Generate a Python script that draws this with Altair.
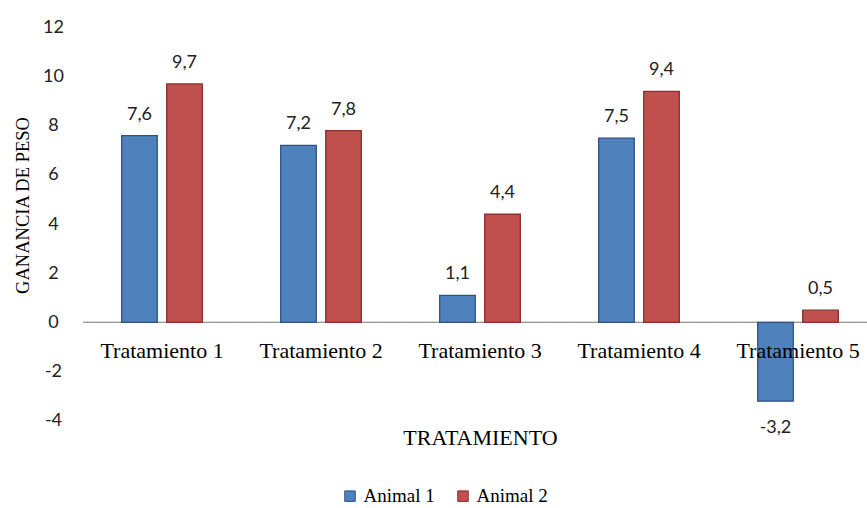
import altair as alt
import pandas as pd

# Weight gain per treatment for the two animals
categories = ["Tratamiento 1", "Tratamiento 2", "Tratamiento 3", "Tratamiento 4", "Tratamiento 5"]
series = ["Animal 1", "Animal 2"]
animal_1 = [7.6, 7.2, 1.1, 7.5, -3.2]
animal_2 = [9.7, 7.8, 4.4, 9.4, 0.5]
y_ticks = [-4, -2, 0, 2, 4, 6, 8, 10, 12]

fill_colors = ["#4F81BD", "#C0504D"]
edge_colors = ["#2F5283", "#8B2E2C"]

rows = []
for cat, a1, a2 in zip(categories, animal_1, animal_2):
    rows.append({"Tratamiento": cat, "Animal": series[0], "Ganancia": a1})
    rows.append({"Tratamiento": cat, "Animal": series[1], "Ganancia": a2})
df = pd.DataFrame(rows)
cat_df = pd.DataFrame({"Tratamiento": categories})

W, H = 795, 393.4

x_scale = alt.Scale(domain=categories, paddingInner=0, paddingOuter=0)
y_scale = alt.Scale(domain=[-4, 12], nice=False, zero=False)
off_scale = alt.Scale(domain=series, paddingInner=0.21, paddingOuter=0.87)

x_axis = alt.Axis(
    title="TRATAMIENTO", labels=False, ticks=False, domain=False, grid=False,
    titleFont="Liberation Serif", titleFontSize=22, titleFontWeight="normal",
    titleColor="#000000", titleX=W / 2, titleY=17, titleBaseline="middle",
    titleAlign="center",
)
y_axis = alt.Axis(
    title="GANANCIA DE PESO", values=y_ticks, ticks=False, domain=False, grid=False,
    labelExpr="replace(datum.label, '\u2212', '-')",
    labelFont="Lato", labelFontSize=18, labelColor="#222222", labelAlign="center",
    labelPadding=29.5, labelBaseline="middle",
    titleFont="Liberation Serif", titleFontSize=18.5, titleFontWeight="normal",
    titleColor="#000000", titleAngle=270, titleX=-60.5, titleY=177.6,
    titleAlign="center", titleBaseline="middle",
)

x_enc = alt.X("Tratamiento:N", scale=x_scale, sort=categories, axis=x_axis)
y_enc = alt.Y("Ganancia:Q", scale=y_scale, axis=y_axis)
off_enc = alt.XOffset("Animal:N", scale=off_scale, sort=series)

legend = alt.Legend(
    orient="none", legendX=258, legendY=459, direction="horizontal", title=None,
    symbolType="square", symbolSize=110, symbolStrokeWidth=1,
    labelFont="Liberation Serif", labelFontSize=19, labelColor="#000000",
    labelOffset=4, columnPadding=18, padding=0, labelLimit=200,
)

zero_line = alt.Chart(df).mark_rule(color="#9A9A9A", strokeWidth=1, strokeDash=[2, 1]).encode(
    y=alt.YDatum(0, scale=y_scale, axis=y_axis),
)

bars = alt.Chart(df).mark_bar(strokeWidth=1.3).encode(
    x=x_enc,
    xOffset=off_enc,
    y=y_enc,
    fill=alt.Fill("Animal:N", scale=alt.Scale(domain=series, range=fill_colors), legend=legend),
    stroke=alt.Stroke("Animal:N", scale=alt.Scale(domain=series, range=edge_colors), legend=legend),
)

# value labels with a decimal comma and a plain hyphen for negatives
label_base = alt.Chart(df).transform_calculate(
    etiqueta="replace(replace(format(datum.Ganancia, '.1f'), '.', ','), '\u2212', '-')"
).encode(x=x_enc, xOffset=off_enc, y=y_enc, text="etiqueta:N")

pos_labels = label_base.transform_filter("datum.Ganancia >= 0").mark_text(
    font="Lato", fontSize=18, color="#222222", baseline="alphabetic", dy=-16
)
neg_labels = label_base.transform_filter("datum.Ganancia < 0").mark_text(
    font="Lato", fontSize=18, color="#222222", baseline="alphabetic", dy=32
)

cat_labels = alt.Chart(cat_df).mark_text(
    font="Liberation Serif", fontSize=22, color="#000000", baseline="alphabetic", dy=35.8
).encode(
    x=x_enc,
    y=alt.YDatum(0, scale=y_scale, axis=y_axis),
    text="Tratamiento:N",
)

chart = alt.layer(zero_line, bars, pos_labels, neg_labels, cat_labels).properties(
    width=W,
    height=H,
    autosize="none",
    padding={"left": 82.5, "top": 27.4, "right": -10.5, "bottom": 87.2},
    background="#FFFFFF",
).configure_view(stroke=None)

chart.save("out.html", embed_options={"renderer": "svg", "actions": False})
